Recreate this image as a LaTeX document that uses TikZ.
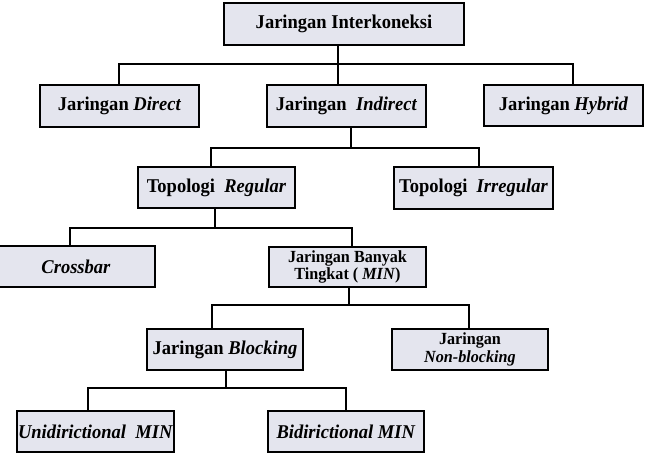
\documentclass[tikz,border=0pt]{standalone}
\usepackage{fontspec}
\setmainfont[FakeStretch=0.95]{Liberation Serif}
\definecolor{boxfill}{RGB}{228,229,238}
\begin{document}
\begin{tikzpicture}[x=1pt,y=-1pt,
  box/.style={draw=black,line width=2.2pt,fill=boxfill,inner sep=0pt,
    minimum height=42pt,align=center,font=\fontsize{19.5}{21}\selectfont\bfseries},
  twoline/.style={font=\fontsize{17}{17.5}\selectfont\bfseries},
  link/.style={draw=black,line width=1.8pt}]
\useasboundingbox (0,0) rectangle (645,459);
% nodes
\node[box,minimum width=240pt] (inter) at (344,24) {Jaringan Interkoneksi};
\node[box,minimum width=159pt] (direct) at (119.5,106) {Jaringan \textit{Direct}};
\node[box,minimum width=159pt] (indirect) at (346.5,106) {Jaringan\ \ \textit{Indirect}};
\node[box,minimum width=159pt,minimum height=41pt] (hybrid) at (563.5,105.5) {Jaringan \textit{Hybrid}};
\node[box,minimum width=157pt,minimum height=41pt] (regular) at (216.5,187.5) {Topologi\ \ \textit{Regular}};
\node[box,minimum width=159pt] (irregular) at (473.5,188) {Topologi\ \ \textit{Irregular}};
\node[box,minimum width=158pt,minimum height=41pt] (crossbar) at (76,266.5) {\textit{Crossbar}};
\node[box,twoline,minimum width=157pt,minimum height=40pt] (min) at (347.5,267) {Jaringan Banyak\\Tingkat ( \textit{MIN})};
\node[box,minimum width=156pt,minimum height=41pt] (blocking) at (225,349.5) {Jaringan \textit{Blocking}};
\node[box,twoline,minimum width=156pt,minimum height=41pt] (nonblocking) at (470,349.5) {Jaringan\\\textit{Non-blocking}};
\node[box,minimum width=157pt,minimum height=41pt] (uni) at (95.5,431.5) {\textit{Unidirictional\ \ MIN}};
\node[box,minimum width=156pt,minimum height=41pt] (bi) at (346,431.5) {\textit{Bidirictional MIN}};
% bus coordinates
\coordinate (a0) at (338,64);  \coordinate (aL) at (119,64);  \coordinate (aR) at (573,64);
\coordinate (b0) at (351,148); \coordinate (bL) at (211,148); \coordinate (bR) at (479,148);
\coordinate (c0) at (215,228); \coordinate (cL) at (70,228);  \coordinate (cR) at (352,228);
\coordinate (d0) at (349,305); \coordinate (dL) at (212,305); \coordinate (dR) at (469,305);
\coordinate (e0) at (226,388); \coordinate (eL) at (88,388);  \coordinate (eR) at (346,388);
% connectors
\draw[link] (inter.south -| a0) -- (indirect.north -| a0);
\draw[link] (direct.north -| aL) -- (aL) -- (aR) -- (hybrid.north -| aR);
\draw[link] (indirect.south -| b0) -- (b0);
\draw[link] (regular.north -| bL) -- (bL) -- (bR) -- (irregular.north -| bR);
\draw[link] (regular.south -| c0) -- (c0);
\draw[link] (crossbar.north -| cL) -- (cL) -- (cR) -- (min.north -| cR);
\draw[link] (min.south -| d0) -- (d0);
\draw[link] (blocking.north -| dL) -- (dL) -- (dR) -- (nonblocking.north -| dR);
\draw[link] (blocking.south -| e0) -- (e0);
\draw[link] (uni.north -| eL) -- (eL) -- (eR) -- (bi.north -| eR);
\end{tikzpicture}
\end{document}
